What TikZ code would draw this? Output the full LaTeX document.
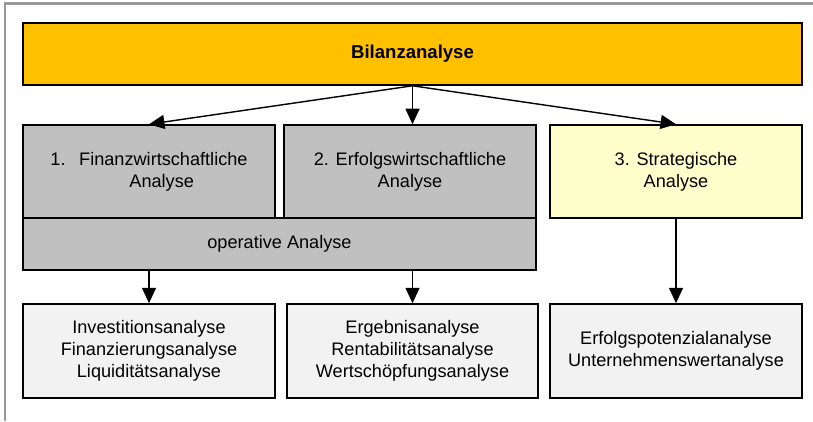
\documentclass[tikz,border=0pt]{standalone}
\usepackage{fontspec}
\setmainfont{Liberation Sans}
\usetikzlibrary{arrows.meta,shadows}

\definecolor{bilanzorange}{HTML}{FFC000}
\definecolor{opgray}{HTML}{C0C0C0}
\definecolor{stratyellow}{HTML}{FFFFCC}
\definecolor{listgray}{HTML}{F2F2F2}

\tikzset{
	box/.style={draw=black, line width=1.1pt, align=center,
		font=\fontsize{12.9}{15.5}\selectfont, inner sep=2pt,
		drop shadow={shadow xshift=0.8pt, shadow yshift=-0.8pt, fill=gray!70, opacity=1}},
	arr/.style={line width=1pt, -{Triangle[length=11pt,width=10pt]}},
}

\begin{document}
\begin{tikzpicture}[x=0.025cm, y=-0.025cm]
	\useasboundingbox (0,0) rectangle (813,421);
	% frame
	\draw[gray!80, line width=1.5pt] (5,421) -- (5,3.5) -- (813,3.5);
	% top
	\node[box, fill=bilanzorange, minimum width=19.475cm, minimum height=1.55cm,
		font=\fontsize{13.2}{15.5}\selectfont\bfseries] (bilanz) at (412.5,54) {Bilanzanalyse};
	% middle row
	\node[box, fill=opgray, minimum width=6.3cm, minimum height=2.325cm] (fin) at (149,171.5)
		{1.\hspace{0.75em}Finanzwirtschaftliche\\\hspace{1.4em}Analyse};
	\node[box, fill=opgray, minimum width=6.3cm, minimum height=2.325cm] (erf) at (410,171.5)
		{2. Erfolgswirtschaftliche\\Analyse};
	\node[box, fill=opgray, minimum width=12.825cm, minimum height=1.3cm] (op) at (279.5,244)
		{operative Analyse};
	\node[box, fill=stratyellow, minimum width=6.3cm, minimum height=2.325cm] (strat) at (676,171.5)
		{3. Strategische\\Analyse};
	% bottom row
	\node[box, fill=listgray, minimum width=6.3cm, minimum height=2.35cm] (finlist) at (149,351)
		{Investitionsanalyse\\Finanzierungsanalyse\\Liquiditätsanalyse};
	\node[box, fill=listgray, minimum width=6.275cm, minimum height=2.35cm] (erflist) at (412.5,351)
		{Ergebnisanalyse\\Rentabilitätsanalyse\\Wertschöpfungsanalyse};
	\node[box, fill=listgray, minimum width=6.3cm, minimum height=2.35cm] (stratlist) at (676,351)
		{Erfolgspotenzialanalyse\\Unternehmenswertanalyse};
	% arrows
	\draw[arr] (bilanz.south) -- (fin.north);
	\draw[arr] (bilanz.south) -- (bilanz.south |- erf.north);
	\draw[arr] (bilanz.south) -- (strat.north);
	\draw[arr] (finlist.north |- op.south) -- (finlist.north);
	\draw[arr] (erflist.north |- op.south) -- (erflist.north);
	\draw[arr] (strat.south) -- (stratlist.north);
\end{tikzpicture}
\end{document}
